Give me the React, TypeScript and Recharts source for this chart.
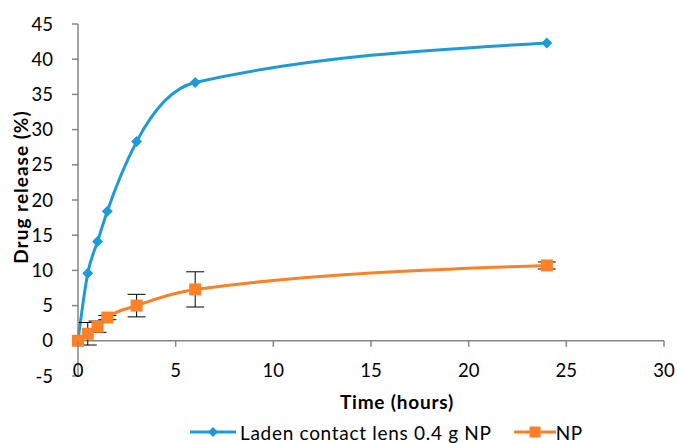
import React from 'react';
import { ComposedChart, Line, XAxis, YAxis, ReferenceLine, Legend, ErrorBar } from 'recharts';

const times = [0, 0.5, 1, 1.5, 3, 6, 24];
const ladenRelease = [0, 9.6, 14.1, 18.4, 28.3, 36.7, 42.3];
const npRelease = [0, 1.0, 2.0, 3.3, 5.0, 7.3, 10.7];
const npError = [0, 1.6, 0.8, 0.3, 1.6, 2.5, 0.5];
const xTicks = [0, 5, 10, 15, 20, 25, 30];
const yTicks = [-5, 0, 5, 10, 15, 20, 25, 30, 35, 40, 45];
const seriesNames = ['Laden contact lens 0.4 g NP', 'NP'];

const data = times.map((t, i) => ({
  time: t,
  laden: ladenRelease[i],
  np: npRelease[i],
  npErr: npError[i],
}));

const FONT = 'Lato, "Open Sans", sans-serif';
const BLUE = '#1E9BD7';
const ORANGE = '#FF8026';
const AXIS = '#868686';

const W = 677;
const H = 443;
const PLOT_LEFT = 78;
const PLOT_RIGHT = 664;
const PLOT_TOP = 24;
const PLOT_BOTTOM = 376;
const Y_MIN = -5;
const Y_MAX = 45;
const zeroY = PLOT_BOTTOM - ((0 - Y_MIN) / (Y_MAX - Y_MIN)) * (PLOT_BOTTOM - PLOT_TOP);

const Diamond = ({ cx, cy, r = 5.5, fill = BLUE }: any) => (
  <path d={`M${cx},${cy - r} L${cx + r},${cy} L${cx},${cy + r} L${cx - r},${cy} Z`} fill={fill} />
);
const Square = ({ cx, cy, s = 12, fill = ORANGE }: any) => (
  <rect x={cx - s / 2} y={cy - s / 2} width={s} height={s} fill={fill} />
);

const DiamondDot = (props: any) => {
  const { cx, cy, index } = props;
  if (cx == null || cy == null) return null;
  return <Diamond key={`d-${index}`} cx={cx} cy={cy} />;
};
const SquareDot = (props: any) => {
  const { cx, cy, index } = props;
  if (cx == null || cy == null) return null;
  return <Square key={`s-${index}`} cx={cx} cy={cy} />;
};

const XTick = (props: any) => {
  const { x, payload } = props;
  return (
    <g>
      <line x1={x} x2={x} y1={zeroY} y2={zeroY + 6} stroke={AXIS} strokeWidth={1.5} />
      <text x={x} y={370} textAnchor="middle" dominantBaseline="central" fontFamily={FONT} fontSize={18.5} fill="#000">
        {payload.value}
      </text>
    </g>
  );
};

const renderLegend = () => (
  <div
    style={{
      display: 'flex',
      justifyContent: 'center',
      alignItems: 'center',
      height: 22,
      fontFamily: FONT,
      fontSize: 19,
      letterSpacing: 0.7,
      color: '#000',
      paddingLeft: 96,
      whiteSpace: 'nowrap',
    }}
  >
    <svg width={46} height={14}>
      <line x1={0} x2={46} y1={7} y2={7} stroke={BLUE} strokeWidth={3} />
      <Diamond cx={23} cy={7} r={5} />
    </svg>
    <span style={{ marginLeft: 4 }}>{seriesNames[0]}</span>
    <svg width={42} height={14} style={{ marginLeft: 22 }}>
      <line x1={0} x2={42} y1={7} y2={7} stroke={ORANGE} strokeWidth={3} />
      <Square cx={21} cy={7} s={11} />
    </svg>
    <span>{seriesNames[1]}</span>
  </div>
);

export default function App() {
  return (
    <div style={{ position: 'absolute', left: 0, top: 0, width: W, height: H, background: '#fff' }}>
      <ComposedChart
        width={W}
        height={H}
        data={data}
        margin={{ top: PLOT_TOP, right: W - PLOT_RIGHT, bottom: 0, left: 0 }}
      >
        <XAxis
          dataKey="time"
          type="number"
          domain={[0, 30]}
          ticks={xTicks}
          axisLine={false}
          tickLine={false}
          tick={<XTick />}
          height={45}
          interval={0}
          label={{
            content: () => (
              <text x={397} y={409} textAnchor="middle" fontFamily={FONT} fontSize={19} letterSpacing={0.8} fontWeight={700} fill="#000">
                Time (hours)
              </text>
            ),
          }}
        />
        <YAxis
          type="number"
          domain={[Y_MIN, Y_MAX]}
          ticks={yTicks}
          width={PLOT_LEFT}
          interval={0}
          axisLine={{ stroke: AXIS, strokeWidth: 1.5 }}
          tickLine={{ stroke: AXIS, strokeWidth: 1.5 }}
          tickSize={6}
          tickMargin={19}
          tick={{ fontFamily: FONT, fontSize: 18.5, fill: '#000' }}
          label={{
            content: () => (
              <text
                transform="translate(28,187) rotate(-90)"
                textAnchor="middle"
                fontFamily={FONT}
                fontSize={19}
                letterSpacing={1}
                fontWeight={700}
                fill="#000"
              >
                Drug release (%)
              </text>
            ),
          }}
        />
        <ReferenceLine y={0} stroke={AXIS} strokeWidth={1.5} />
        <Legend verticalAlign="bottom" content={renderLegend} wrapperStyle={{ left: 0, width: W, bottom: 0, height: 22 }} />
        <Line
          type="monotone"
          dataKey="laden"
          name={seriesNames[0]}
          stroke={BLUE}
          strokeWidth={3}
          dot={<DiamondDot />}
          isAnimationActive={false}
        />
        <Line
          type="monotone"
          dataKey="np"
          name={seriesNames[1]}
          stroke={ORANGE}
          strokeWidth={3}
          dot={<SquareDot />}
          isAnimationActive={false}
        >
          <ErrorBar dataKey="npErr" direction="y" width={9} stroke="#000" strokeWidth={1} isAnimationActive={false} />
        </Line>
      </ComposedChart>
    </div>
  );
}
